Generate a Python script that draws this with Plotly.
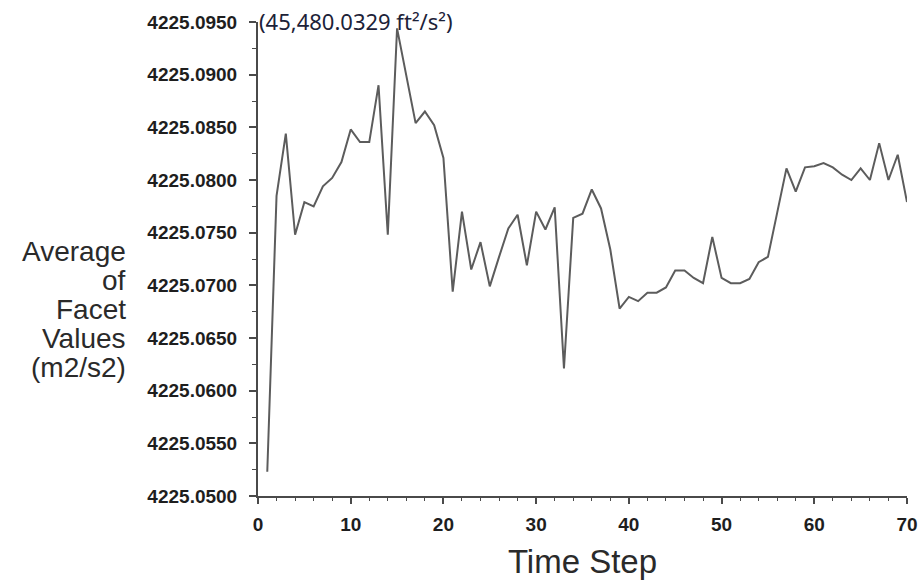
import plotly.graph_objects as go

time_step = list(range(1, 71))
avg_values = [
    4225.0523, 4225.0785, 4225.0844, 4225.0748, 4225.0779, 4225.0775, 4225.0794, 4225.0802, 4225.0817, 4225.0848,
    4225.0836, 4225.0836, 4225.0890, 4225.0748, 4225.0944, 4225.0898, 4225.0854, 4225.0865, 4225.0852, 4225.0821,
    4225.0694, 4225.0770, 4225.0715, 4225.0741, 4225.0699, 4225.0727, 4225.0754, 4225.0767, 4225.0719, 4225.0770,
    4225.0753, 4225.0774, 4225.0621, 4225.0764, 4225.0768, 4225.0791, 4225.0773, 4225.0734, 4225.0678, 4225.0689,
    4225.0685, 4225.0693, 4225.0693, 4225.0698, 4225.0714, 4225.0714, 4225.0707, 4225.0702, 4225.0746, 4225.0707,
    4225.0702, 4225.0702, 4225.0706, 4225.0722, 4225.0727, 4225.0769, 4225.0811, 4225.0789, 4225.0812, 4225.0813,
    4225.0816, 4225.0812, 4225.0805, 4225.0800, 4225.0811, 4225.0800, 4225.0835, 4225.0800, 4225.0824, 4225.0779,
]
y_title_lines = ["Average", "of", "Facet", "Values", "(m2/s2)"]
x_title = "Time Step"
peak_label = "(45,480.0329 ft²/s²)"

W, H = 923, 581
ml, mr, mt, mb = 258, 16, 22, 85
pw, ph = W - ml - mr, H - mt - mb

fig = go.Figure()
fig.add_trace(go.Scatter(
    x=time_step, y=avg_values, mode="lines",
    line=dict(color="#5c5c5c", width=2), hoverinfo="skip", showlegend=False,
))

axis_color = "#4a4a4a"
tick_font = dict(family="Liberation Sans, Arial, sans-serif", size=19, color="#1e1e1e", weight="bold")

fig.update_xaxes(
    range=[0, 70], dtick=10, tick0=0, showgrid=False, zeroline=False,
    showline=True, linecolor=axis_color, linewidth=2,
    ticks="outside", ticklen=6, tickwidth=1.5, tickcolor=axis_color,
    minor=dict(ticks="outside", dtick=2, ticklen=3, tickcolor=axis_color, tickwidth=1),
    tickfont=tick_font, ticklabelstandoff=4, automargin=False,
    title=dict(text=x_title, font=dict(family="Liberation Sans, Arial, sans-serif", size=33, color="#2a2a2a"), standoff=16),
)
fig.update_yaxes(
    range=[4225.05, 4225.095], dtick=0.005, tick0=4225.05, tickformat=".4f",
    showgrid=False, zeroline=False, automargin=False,
    showline=True, linecolor=axis_color, linewidth=2,
    ticks="outside", ticklen=7, tickwidth=1.5, tickcolor=axis_color,
    minor=dict(ticks="outside", dtick=0.0025, ticklen=4, tickcolor=axis_color, tickwidth=1),
    tickfont=tick_font, ticklabelstandoff=8,
)

title_centers = [251, 280, 309, 338, 367]
for txt, yc in zip(y_title_lines, title_centers):
    fig.add_annotation(
        text=txt, xref="paper", yref="paper",
        x=(128 - ml) / pw, y=(H - mb - yc) / ph,
        xanchor="right", yanchor="middle", showarrow=False,
        font=dict(family="Liberation Sans, Arial, sans-serif", size=28, color="#2a2a2a"),
    )

fig.add_annotation(
    text=peak_label, xref="paper", yref="paper",
    x=(257 - ml) / pw, y=(H - mb - 21) / ph,
    xanchor="left", yanchor="middle", showarrow=False,
    font=dict(family="Noto Sans, sans-serif", size=22, color="#1c2238"),
)

fig.update_layout(
    width=W, height=H, margin=dict(l=ml, r=mr, t=mt, b=mb),
    paper_bgcolor="white", plot_bgcolor="white",
)

fig.write_html("out.html")
